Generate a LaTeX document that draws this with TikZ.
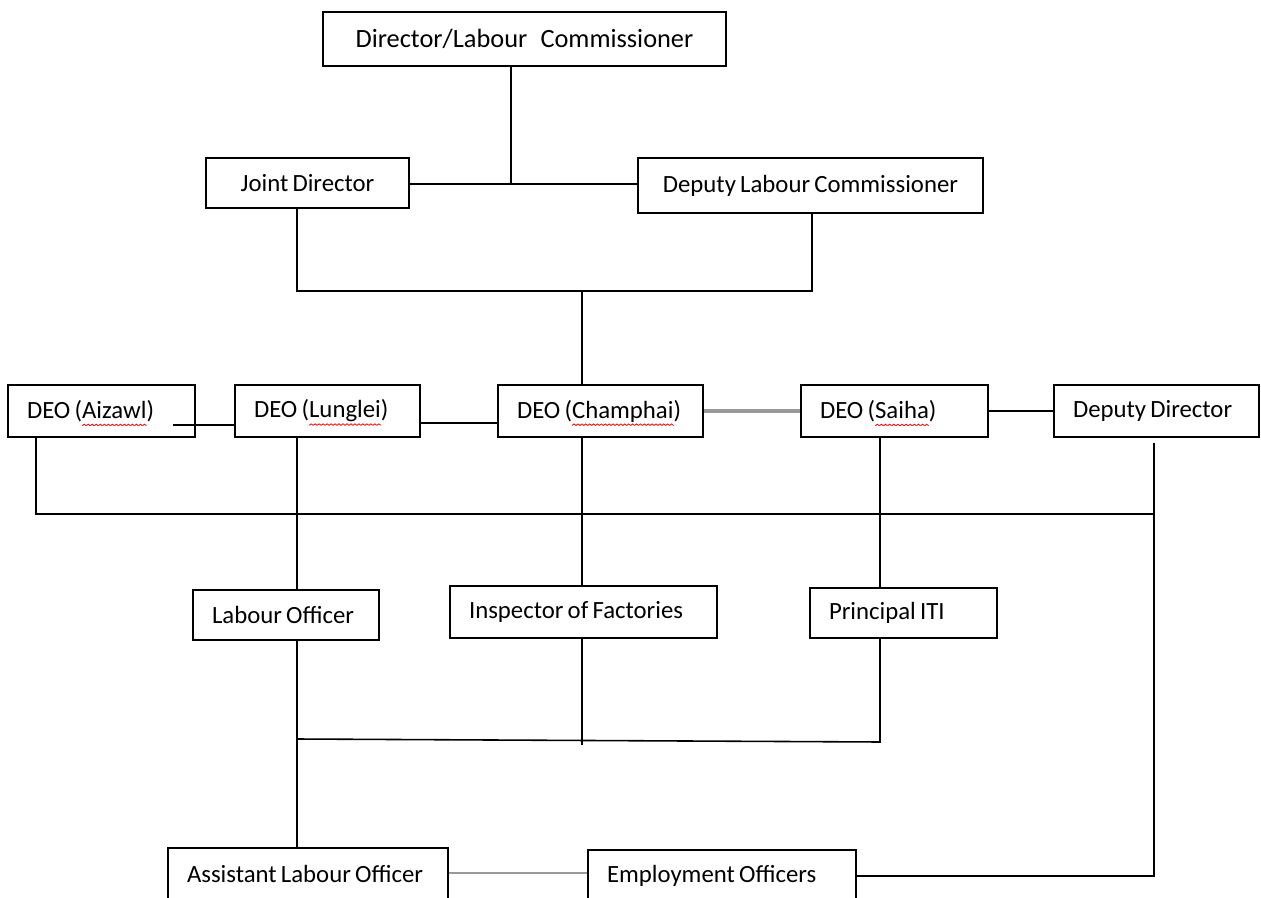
\documentclass[tikz,border=0pt]{standalone}
\usepackage{fontspec}
\setmainfont{Carlito}
\usepackage{tikz}
\usetikzlibrary{positioning}

\newsavebox{\wavebit}
\newcommand{\spellmark}[1]{\setbox0\hbox{#1}\rlap{\raisebox{-0.3em}[0pt][0pt]{\hbox to\wd0{\xleaders\copy\wavebit\hfill}}}\box0}

\begin{document}
\sbox{\wavebit}{\pgfpicture
  \pgfsetlinewidth{0.45pt}\pgfsetstrokecolor{red}
  \pgfpathmoveto{\pgfpoint{0pt}{0pt}}
  \pgfpathlineto{\pgfpoint{1.1pt}{0.9pt}}
  \pgfpathlineto{\pgfpoint{2.2pt}{0pt}}
  \pgfusepath{stroke}
  \pgfresetboundingbox
  \pgfpathrectangle{\pgfpoint{0pt}{0pt}}{\pgfpoint{2.2pt}{0.9pt}}
  \pgfusepath{use as bounding box}
\endpgfpicture}
\begin{tikzpicture}[
    x=0.02cm, y=-0.02cm,
    base/.style={rectangle, draw=black, line width=0.9pt, fill=white, inner xsep=0.38cm, inner ysep=0pt, font=\fontsize{14.1}{17}\selectfont},
    box/.style={base, align=left, execute at begin node={\spaceskip=0.17em\relax\hbox\bgroup}, execute at end node={\egroup}},
    cbox/.style={base, align=center, execute at begin node={\spaceskip=0.17em\relax}},
    link/.style={draw=black, line width=0.9pt},
    greylink/.style={draw=gray!80, line width=1.8pt}
]
\useasboundingbox (0,0) rectangle (1261,898);

% Nodes
\node[cbox, text width=7.3cm, minimum height=1.08cm, font=\fontsize{15}{18}\selectfont] (dlc) at (524.5,39) {Director/Labour\,\, Commissioner};
\node[cbox, text width=3.3cm, minimum height=1.0cm] (jd) at (307.5,183) {Joint Director};
\node[cbox, text width=6.14cm, minimum height=1.1cm] (dplc) at (810.5,185.5) {Deputy Labour Commissioner};

\node[box, text width=2.98cm, minimum height=1.04cm] (aiz) at (101.5,411) {DEO (\spellmark{Aizawl})};
\node[box, text width=2.94cm, minimum height=1.04cm] (lun) at (327.5,411) {DEO (\spellmark{Lunglei})};
\node[box, text width=3.34cm, minimum height=1.04cm] (cha) at (600.5,411) {DEO (\spellmark{Champhai})};
\node[box, text width=2.98cm, minimum height=1.04cm] (sai) at (894.5,411) {DEO (\spellmark{Saiha})};
\node[box, text width=3.34cm, minimum height=1.04cm] (dd) at (1156.5,411) {Deputy Director};

\node[box, text width=2.96cm, minimum height=1.0cm] (lo) at (286,615) {Labour Officer};
\node[box, text width=4.58cm, minimum height=1.04cm] (iof) at (583.5,612) {Inspector of Factories};
\node[box, text width=2.98cm, minimum height=1.0cm] (piti) at (903.5,613) {Principal ITI};

\node[box, text width=4.84cm, minimum height=1.04cm] (alo) at (308,874) {Assistant Labour Officer};
\node[box, text width=4.6cm, minimum height=1.04cm] (eo) at (722,876) {Employment Officers};

% Junction points
\coordinate (t1) at (511,184);
\coordinate (b1) at (297,291);
\coordinate (b2) at (812,291);
\coordinate (t2) at (582,291);
\coordinate (a1) at (173,425);
\coordinate (a2) at (420,423);
\coordinate (r1) at (36,514);
\coordinate (r2) at (1154,514);
\coordinate (r3) at (1154,876);
\coordinate (v1) at (297,739);
\coordinate (v2) at (582,745);
\coordinate (v3) at (880,742);
\coordinate (h1) at (520,873);

% Lines
\draw[link] (dlc.south -| t1) -- (t1);
\draw[link] (jd.east |- t1) -- (dplc.west |- t1);
\draw[link] (jd.south -| b1) -- (b1) -- (b2) -- (dplc.south -| b2);
\draw[link] (t2) -- (cha.north -| t2);

\draw[link] (a1) -- (lun.west |- a1);
\draw[link] (lun.east |- a2) -- (cha.west |- a2);
\draw[greylink] (cha.east) -- (sai.west);
\draw[link] (sai.east) -- (dd.west);

\draw[link] (aiz.south -| r1) -- (r1) -- (r2);
\draw[link, shorten <=3pt] (dd.south -| r2) -- (r3) -- (eo.east |- r3);

\draw[link] (lun.south -| v1) -- (lo.north -| v1);
\draw[link] (cha.south -| v2) -- (iof.north -| v2);
\draw[link] (sai.south -| v3) -- (piti.north -| v3);

\draw[link] (lo.south -| v1) -- (alo.north -| v1);
\draw[link] (iof.south -| v2) -- (v2);
\draw[link] (piti.south -| v3) -- (v3) -- (v1);
\draw[greylink, line width=1.4pt] (alo.east |- h1) -- (eo.west |- h1);

\end{tikzpicture}
\end{document}
